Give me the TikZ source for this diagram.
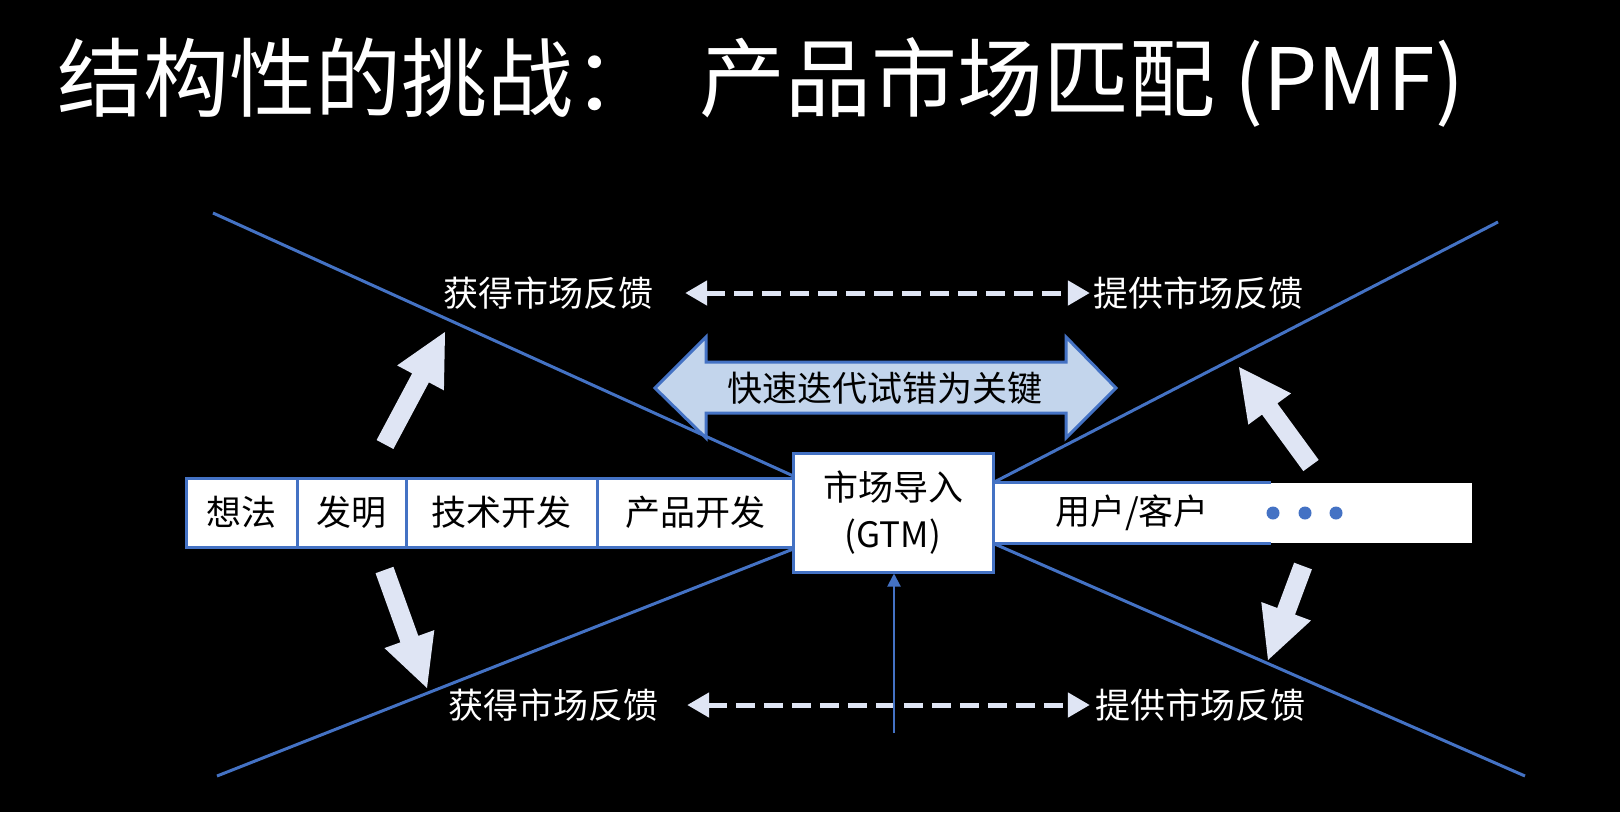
\documentclass[tikz,border=0pt]{standalone}
\usepackage{fontspec}
\setmainfont{Noto Sans CJK SC}
\usetikzlibrary{arrows.meta,calc}
\definecolor{xblue}{HTML}{4472C4}
\definecolor{pale}{HTML}{DFE5F4}
\definecolor{lightblue}{HTML}{C3D5EC}
\pgfdeclarelayer{bg}
\pgfdeclarelayer{lines}
\pgfsetlayers{bg,lines,main}
\newcommand\blkarrow[3]{%
  \coordinate (#1h) at ($(#3)!52pt!(#2)$);
  \fill[blkfill] ($(#2)!9.5pt!90:(#3)$) -- ($(#1h)!9.5pt!90:(#3)$) -- ($(#1h)!26.5pt!90:(#3)$) -- (#3)
    -- ($(#1h)!26.5pt!-90:(#3)$) -- ($(#1h)!9.5pt!-90:(#3)$) -- ($(#2)!9.5pt!-90:(#3)$) -- cycle;}
\begin{document}
\begin{tikzpicture}[x=1pt,y=-1pt,
  txt/.style={font=\fontsize{35}{47}\selectfont, inner sep=0pt},
  stage/.style={txt, draw=xblue, line width=3pt, fill=white, minimum height=69pt, text=black},
  xline/.style={draw=xblue, line width=3pt},
  fblabel/.style={txt, text=white},
  fbarrow/.style={draw=pale, line width=5pt, dash pattern=on 19pt off 9pt,
     {Triangle[length=22pt,width=24pt]}-{Triangle[length=22pt,width=24pt]}},
  blkfill/.style={fill=pale},
  titletxt/.style={anchor=base west, text=white, font=\fontsize{86}{100}\selectfont, inner sep=0pt}
  ]
\begin{pgfonlayer}{bg}
  \fill[black] (0,0) rectangle (1620,812);
\end{pgfonlayer}
\useasboundingbox (0,0) rectangle (1620,812);

% title
\node[titletxt] (t1) at (57,110) {结构性的挑战：};
\node[titletxt] (t2) at (699,110) {产品市场匹配 (PMF)};

% stage row
\node[stage, minimum width=111pt] (idea) at (241.5,512.5) {想法};
\node[stage, minimum width=109pt] (inv) at (351.5,512.5) {发明};
\node[stage, minimum width=191pt] (tech) at (501.5,512.5) {技术开发};
\node[stage, minimum width=196pt] (prod) at (695,512.5) {产品开发};

% user bar
\node[txt, fill=white, text=black, minimum width=278pt, minimum height=60pt] (user) at (1132,513) {用户/客户};
\node[fill=white, minimum width=201pt, minimum height=60pt, inner sep=0pt, anchor=west] (more) at (user.east) {};
\draw[xline] (user.north west) -- (user.north east);
\draw[xline] (user.south west) -- (user.south east);
\foreach \i/\x in {1/1273,2/1305,3/1336}
  \node[circle, fill=xblue, minimum size=13pt, inner sep=0pt] (dot\i) at (\x,513) {};

% GTM box
\node[stage, minimum width=200pt, minimum height=119pt, align=center] (gtm) at (893,512.5) {市场导入\\(GTM)};

% X lines
\coordinate (xa) at (213,213);
\coordinate (xb) at (217,776);
\coordinate (xc) at (1498,222);
\coordinate (xd) at (1525,776);
\begin{pgfonlayer}{lines}
  \draw[xline] (xa) -- (prod.north east);
  \draw[xline] (xb) -- (prod.south east);
  \draw[xline] (user.north west) -- (xc);
  \draw[xline] (user.south west) -- (xd);
\end{pgfonlayer}

% big double arrow
\draw[draw=xblue, line width=3pt, fill=lightblue, line join=miter]
  (655,388) -- (706,337) -- (706,362) -- (1066,362) -- (1066,337) -- (1116,388)
  -- (1066,438) -- (1066,413) -- (706,413) -- (706,438) -- cycle;
\node[txt, text=black] (iter) at (885,388) {快速迭代试错为关键};

% feedback labels
\node[fblabel] (getU) at (548,293) {获得市场反馈};
\node[fblabel] (giveU) at (1198,293) {提供市场反馈};
\node[fblabel] (getD) at (553,705) {获得市场反馈};
\node[fblabel] (giveD) at (1200,705) {提供市场反馈};
\draw[fbarrow, shorten <=32pt, shorten >=3pt] (getU) -- (giveU);
\draw[fbarrow, shorten <=29pt, shorten >=5pt] (getD) -- (giveD);

% block arrows
\coordinate (ba1t) at (385,444.5); \coordinate (ba1p) at (445,332);
\coordinate (ba2t) at (384.5,570); \coordinate (ba2p) at (427,688);
\coordinate (ba3t) at (1311,465.5); \coordinate (ba3p) at (1239,367);
\coordinate (ba4t) at (1303,566); \coordinate (ba4p) at (1268,660);
\blkarrow{ba1}{ba1t}{ba1p}
\blkarrow{ba2}{ba2t}{ba2p}
\blkarrow{ba3}{ba3t}{ba3p}
\blkarrow{ba4}{ba4t}{ba4p}

% input arrow into GTM
\coordinate (gtmin) at (894,733);
\draw[draw=xblue, line width=2pt, -{Triangle[length=13pt,width=13pt]}] (gtmin) -- (gtmin |- gtm.south);
\end{tikzpicture}
\end{document}
